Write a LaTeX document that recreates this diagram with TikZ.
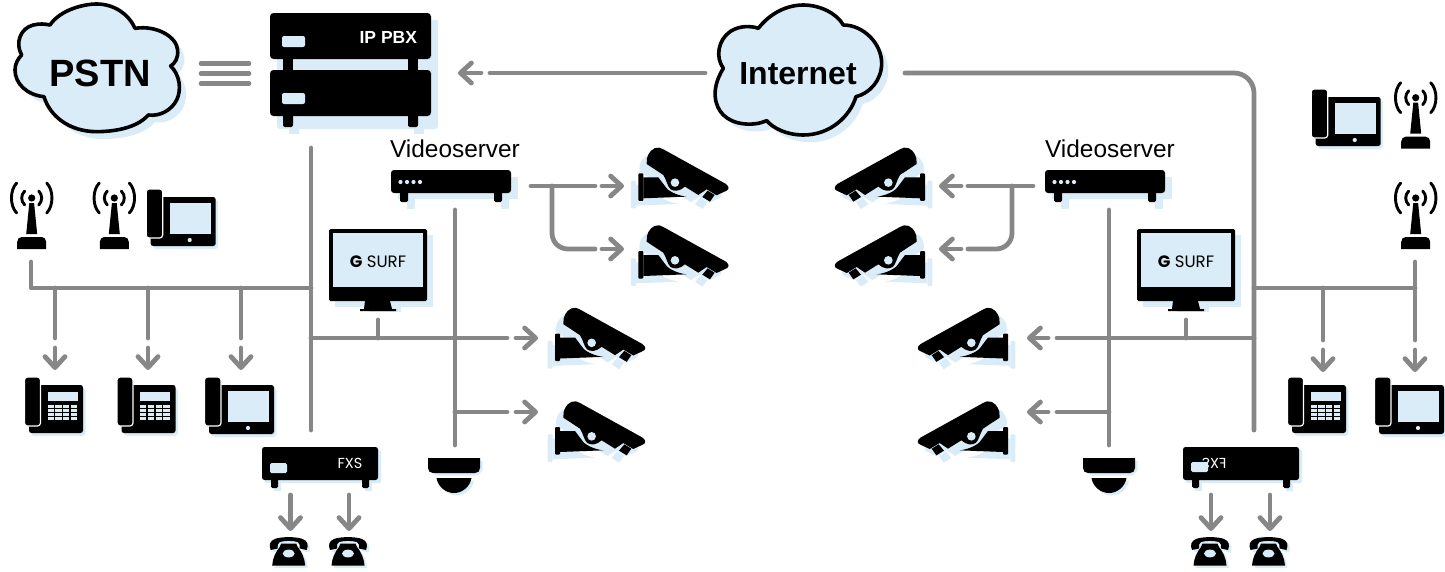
\documentclass[tikz,border=0pt]{standalone}
\usepackage{fontspec}
\setmainfont{Liberation Sans}
\newfontfamily\geo{Poppins}
\usetikzlibrary{arrows.meta,calc}
\definecolor{lb}{HTML}{D9ECF8}
\definecolor{lg}{HTML}{878787}
\newcommand\fpx[1]{\fontsize{#1}{#1}\selectfont}
% ---- shape helpers
\newcommand\cloudA{(150,75) .. controls (180,30) and (250,12) .. (290,12) .. controls (340,12) and (385,40) .. (405,85)
 .. controls (470,75) and (530,110) .. (533,150) .. controls (535,175) and (525,190) .. (512,198)
 .. controls (540,225) and (545,270) .. (530,300) .. controls (515,330) and (480,350) .. (445,345)
 .. controls (410,385) and (340,395) .. (290,395) .. controls (210,395) and (150,350) .. (132,290)
 .. controls (80,285) and (45,250) .. (45,210) .. controls (45,190) and (55,175) .. (65,165)
 .. controls (45,130) and (60,85) .. (100,75) .. controls (120,70) and (135,72) .. (150,75) -- cycle}
\newcommand\cloudB{(205,85) .. controls (240,40) and (290,15) .. (340,15) .. controls (390,15) and (440,40) .. (460,75)
 .. controls (520,75) and (575,130) .. (575,190) .. controls (575,240) and (540,280) .. (498,290)
 .. controls (480,350) and (420,405) .. (340,405) .. controls (290,405) and (250,385) .. (230,362)
 .. controls (190,380) and (130,375) .. (100,345) .. controls (75,320) and (60,270) .. (100,205)
 .. controls (75,170) and (85,120) .. (120,95) .. controls (150,75) and (185,78) .. (205,85) -- cycle}
\newcommand\camshape[1]{%
 \fill[#1,rounded corners=1pt] (355,130) rectangle (370,213);
 \fill[#1] (370,142) -- (415,142) -- (440,175) .. controls (452,188) and (480,198) .. (500,200) -- (370,205) -- cycle;
 \fill[#1] (380,102) -- (381,85) .. controls (384,70) and (398,50) .. (418,53) .. controls (422,54) and (426,56) .. (430,58) -- (618,162) .. controls (628,170) and (628,178) .. (620,182)
   -- (590,196) -- (560,178) -- (535,195) -- (495,170) .. controls (480,184) and (462,185) .. (452,178) .. controls (442,170) and (440,150) .. (430,135) -- cycle;
 \fill[#1] (563,182) -- (584,195) -- (570,215) -- (547,201) -- cycle;}
\newcommand\oldphone[1]{%
 \fill[#1] (-18,13) .. controls (-20,8) and (-19,4) .. (-14,2) .. controls (-8,-0.5) and (8,-0.5) .. (14,2) .. controls (19,4) and (20,8) .. (18,13)
   -- (11,11.5) .. controls (11,8) and (11,6) .. (9,5) .. controls (4,3.5) and (-4,3.5) .. (-9,5) .. controls (-11,6) and (-11,8) .. (-11,11.5) -- cycle;
 \fill[#1] (-7.5,6.5) -- (7.5,6.5) -- (9,10) .. controls (13,15) and (16,21) .. (16.5,28.5) -- (-16.5,28.5) .. controls (-16,21) and (-13,15) .. (-9,10) -- cycle;}
\tikzset{
 conn/.style={draw=lg,line width=4.8pt,line cap=round,line join=round},
 eqline/.style={draw=lg,line width=4.6pt,line cap=round},
 arr/.style={conn,-{Straight Barb[round,length=11pt,width=20pt]}},
 cloudpic/.pic={
  \begin{scope}[x=.3333pt,y=-.3333pt]
   \fill[lb,shift={(20,22)}] \cloudA;
   \draw[line width=3.6pt,fill=lb,line join=round] \cloudA;
  \end{scope}},
 cloudpicb/.pic={
  \begin{scope}[x=.3333pt,y=-.3333pt]
   \fill[lb,shift={(20,22)}] \cloudB;
   \draw[line width=3.6pt,fill=lb,line join=round] \cloudB;
  \end{scope}},
 pbxpic/.pic={
  \fill[lb] (7,7) rectangle (168,64);
  \fill[lb,rounded corners=3pt] (7,57) rectangle (168,116);
  \fill[lb] (19,110) rectangle (29,121);
  \fill[lb] (144,110) rectangle (154,121);
  \fill[black,rounded corners=3.5pt] (0,0) rectangle (161,46);
  \fill[black,rounded corners=3.5pt] (0,57) rectangle (161,103);
  \fill (13,46) rectangle (23,57);
  \fill (138,46) rectangle (148,57);
  \fill[rounded corners=2pt] (13,100) rectangle (23,114);
  \fill[rounded corners=2pt] (138,100) rectangle (148,114);
  \fill[lb,rounded corners=2pt] (12,23) rectangle (35,34);
  \fill[lb,rounded corners=2pt] (12,80) rectangle (35,91);},
 fxspic/.pic={
  \fill[lb,rounded corners=2pt] (3,3) rectangle (119,36);
  \fill[lb] (12,30) rectangle (19,44);
  \fill[lb] (103,30) rectangle (110,44);
  \fill[black,rounded corners=2.5pt] (0,0) rectangle (116,33);
  \fill[rounded corners=1.5pt] (9,30) rectangle (16,41);
  \fill[rounded corners=1.5pt] (100,30) rectangle (107,41);},
 fxsled/.pic={\fill[lb,rounded corners=1.5pt] (0,0) rectangle (17,10);},
 videopic/.pic={
  \fill[lb] (7,7) rectangle (127,29);
  \fill[lb] (16,25) rectangle (24,39);
  \fill[lb] (110,25) rectangle (118,39);
  \fill[black,rounded corners=3pt] (0,0) rectangle (120,23);
  \fill[rounded corners=1.5pt] (9,20) rectangle (17,32);
  \fill[rounded corners=1.5pt] (103,20) rectangle (111,32);
  \foreach \dx in {9.5,16,22.5,29} \fill[lb] (\dx,12) circle (2.1pt);},
 monitorpic/.pic={
  \fill[lb] (6,6) rectangle (104,78);
  \fill[lb] (40,72) rectangle (72,83);
  \fill[black,rounded corners=1.5pt] (0,0) rectangle (98,72);
  \fill (36,72) -- (61,72) -- (63,80) -- (67,80) -- (67,82) -- (31,82) -- (31,80) -- (35,80) -- cycle;
  \fill[lb] (4,4) rectangle (94,58);},
 phonebase/.pic={
  \fill[lb,rounded corners=3pt] (7,11) rectangle (72,60);
  \fill[black,rounded corners=2.5pt] (4.5,8) rectangle (69.5,57);
  \draw[white,line width=1.2pt,fill=black,rounded corners=3pt] (0,0) rectangle (16.5,49);},
 screenphone/.pic={
  \pic {phonebase};
  \fill[lb] (23.5,14) rectangle (64.5,45);
  \fill[lb] (43.5,51) circle (2.1pt);},
 keyphone/.pic={
  \fill[lb,rounded corners=3pt] (7,11) rectangle (61,59);
  \fill[black,rounded corners=2.5pt] (4.5,8) rectangle (58.5,56);
  \draw[white,line width=1.2pt,fill=black,rounded corners=3pt] (0,0) rectangle (16,49);
  \fill[lb] (23,15) rectangle (53,24);
  \foreach \cx in {0,1,2,3} \foreach \cy in {0,1,2,3}
   \fill[lb] ({23+\cx*7.75},{27.5+\cy*4.25}) rectangle ({29.25+\cx*7.75},{30.5+\cy*4.25});},
 antennapic/.pic={
  \draw[line width=2.9pt,line cap=round] (-15,-15) .. controls (-22,-8) and (-22,8) .. (-15,15);
  \draw[line width=2.9pt,line cap=round] (15,-15) .. controls (22,-8) and (22,8) .. (15,15);
  \draw[line width=2.9pt,line cap=round] (-7,-7) .. controls (-11,-3) and (-11,3) .. (-7,7);
  \draw[line width=2.9pt,line cap=round] (7,-7) .. controls (11,-3) and (11,3) .. (7,7);
  \fill (0,0) circle (3.6pt);
  \fill (-2.4,5) -- (2.4,5) -- (5.5,36) -- (-5.5,36) -- cycle;
  \fill (-14.5,51) -- (-14.5,44) .. controls (-14.5,41) and (-12.5,39) .. (-10,39) -- (10,39) .. controls (12.5,39) and (14.5,41) .. (14.5,44) -- (14.5,51) -- cycle;},
 camerapic/.pic={
  \begin{scope}[x=.3333pt,y=-.3333pt,shift={(-355,-52)}]
   \begin{scope}[shift={(-22,22)}]\camshape{lb}\end{scope}
   \camshape{black}
   \fill[lb] (465,158) circle (4.3pt);
  \end{scope}},
 domepic/.pic={
  \fill[lb] (-23.5,2.5) -- (28.5,2.5) -- (28.5,12.5) -- (23.5,17.5) -- (-18.5,17.5) -- cycle;
  \fill[lb] (-15,22.5) -- (20,22.5) .. controls (18.5,31.5) and (10.5,37.5) .. (2.5,37.5) .. controls (-5.5,37.5) and (-13.5,31.5) .. (-15,22.5) -- cycle;
  \fill (-26,0) -- (26,0) -- (26,10) .. controls (26,13) and (24,15) .. (21,15) -- (-21,15) .. controls (-24,15) and (-26,13) .. (-26,10) -- cycle;
  \fill (-17.5,20) -- (17.5,20) .. controls (16,29) and (8,35) .. (0,35) .. controls (-8,35) and (-16,29) .. (-17.5,20) -- cycle;},
 oldphonepic/.pic={
  \begin{scope}[shift={(2.5,2.5)}]\oldphone{lb}\end{scope}
  \oldphone{black}
  \fill[lb] (0,16.5) ellipse [x radius=6pt,y radius=3.9pt];},
 lbl/.style={inner sep=0pt,outer sep=0pt}
}
\begin{document}
\begin{tikzpicture}[x=1pt,y=-1pt]
\useasboundingbox (0,0) rectangle (1445,571);
% ---- devices and clouds
\pic (pstncloud) at (0,0) {cloudpic};
\pic (netcloud) at (690,0) {cloudpicb};
\pic (pbx) at (270,13) {pbxpic};
\pic (fxsl) at (262,447) {fxspic};
\pic (ledl) at (270,463) {fxsled};
\pic (fxsr) at (1183,447) {fxspic};
\pic (vsl) at (391,170) {videopic};
\pic (vsr) at (1045,170) {videopic};
\pic (moni) at (329,229) {monitorpic};
\pic (monr) at (1137,229) {monitorpic};
\pic (ant1) at (31.7,198) {antennapic};
\pic (ant2) at (114.3,198) {antennapic};
\pic (ant3) at (1415.7,97.7) {antennapic};
\pic (ant4) at (1415.7,198) {antennapic};
\pic (ph1) at (146.2,189) {screenphone};
\pic (ph2) at (204.5,377) {screenphone};
\pic (ph3) at (1311.2,89) {screenphone};
\pic (ph4) at (1374.5,377) {screenphone};
\pic (kp1) at (24.5,377) {keyphone};
\pic (kp2) at (117,377) {keyphone};
\pic (kp3) at (1287.5,377) {keyphone};
\pic (cam1) at (638.3,147.3) {camerapic};
\pic (cam2) at (638.3,225) {camerapic};
\pic (cam3) at (555,307.5) {camerapic};
\pic (cam4) at (555,401) {camerapic};
\pic[xscale=-1] (cam5) at (925,147.3) {camerapic};
\pic[xscale=-1] (cam6) at (925,225) {camerapic};
\pic[xscale=-1] (cam7) at (1008,307.5) {camerapic};
\pic[xscale=-1] (cam8) at (1008,401) {camerapic};
\pic (dome1) at (454,458) {domepic};
\pic (dome2) at (1109,458) {domepic};
\pic (tel1) at (288.7,537) {oldphonepic};
\pic (tel2) at (348,537) {oldphonepic};
\pic (tel3) at (1210,537) {oldphonepic};
\pic (tel4) at (1268.5,537) {oldphonepic};
% ---- labels
\node[lbl,anchor=base] (pstn) at (100,86) {\fpx{38}\bfseries PSTN};
\node[lbl,anchor=base] (internet) at (798,84) {\fpx{32}\bfseries Internet};
\node[lbl,anchor=base east,text=white] (ippbx) at (417,43) {\fpx{17.5}\bfseries IP PBX};
\node[lbl,anchor=base] (vl) at (455,157.5) {\fpx{24.4}Videoserver};
\node[lbl,anchor=base] (vr) at (1110,157.5) {\fpx{24.4}Videoserver};
\node[lbl,anchor=base] (gl) at (378,267) {\fpx{16.5}\geo\textbf{G} SURF};
\node[lbl,anchor=base] (gr) at (1186,267) {\fpx{16.5}\geo\textbf{G} SURF};
\node[lbl,anchor=base,text=white] (fx1) at (350,468) {\fpx{14.5}\geo FXS};
\node[lbl,anchor=base,text=white,xscale=-1] (fx2) at (1214,468) {\fpx{14.5}\geo FXS};
\pic (ledr) at (1191,462) {fxsled};
% ---- named connector points
\coordinate (eqa) at (201,63.5); \coordinate (eqb) at (249,63.5);
\coordinate (eqc) at (201,73.5); \coordinate (eqd) at (249,73.5);
\coordinate (eqe) at (201,83.5); \coordinate (eqf) at (249,83.5);
\coordinate (n1) at (705,73); \coordinate (n2) at (490,73); \coordinate (n3) at (481,73); \coordinate (n4) at (458,73);
% left trunk
\coordinate (lt) at (311,148); \coordinate (lb1) at (311,430);
\coordinate (lj) at (311,288); \coordinate (lj2) at (311,338);
\coordinate (la) at (31,262); \coordinate (lc) at (31,288);
\foreach \nm/\xx in {bra/55,brb/148,brc/241}{
 \coordinate (\nm a) at (\xx,288); \coordinate (\nm b) at (\xx,338);
 \coordinate (\nm c) at (\xx,348); \coordinate (\nm d) at (\xx,370);}
\coordinate (m1) at (507,338); \coordinate (m2) at (516,338); \coordinate (m3) at (538,338);
\coordinate (st1) at (378,320); \coordinate (st2) at (378,338);
\coordinate (vl1) at (455,210); \coordinate (vl2) at (455,445);
\coordinate (vj) at (455,412); \coordinate (m4) at (507,412); \coordinate (m5) at (516,412); \coordinate (m6) at (538,412);
\coordinate (s0) at (531,186); \coordinate (s1) at (595,186); \coordinate (s2) at (602,186); \coordinate (s3) at (624,186);
\coordinate (s4) at (552,186); \coordinate (s5) at (552,233); \coordinate (s6) at (568,249); \coordinate (s7) at (595,249); \coordinate (s8) at (602,249); \coordinate (s9) at (624,249);
\coordinate (f1a) at (290.5,495); \coordinate (f1b) at (290.5,531);
\coordinate (f2a) at (349,495); \coordinate (f2b) at (349,531);
% right
\coordinate (ra) at (905,73); \coordinate (rb) at (1234,73); \coordinate (rc) at (1254,93); \coordinate (rd) at (1254,430);
\coordinate (rj) at (1254,288); \coordinate (rj2) at (1254,338);
\coordinate (re) at (1415,288); \coordinate (rf) at (1415,262); \coordinate (rg) at (1415,340); \coordinate (rh) at (1415,350); \coordinate (ri) at (1415,372);
\coordinate (rk) at (1323,288); \coordinate (rl) at (1323,340); \coordinate (rm) at (1323,350); \coordinate (rn) at (1323,372);
\coordinate (w1) at (1057,338); \coordinate (w2) at (1048,338); \coordinate (w3) at (1027,338);
\coordinate (st3) at (1186,320); \coordinate (st4) at (1186,338);
\coordinate (vr1) at (1109,210); \coordinate (vr2) at (1109,445);
\coordinate (vk) at (1109,412); \coordinate (w4) at (1057,412); \coordinate (w5) at (1048,412); \coordinate (w6) at (1027,412);
\coordinate (t0) at (1033,186); \coordinate (t1) at (968,186); \coordinate (t2) at (961,186); \coordinate (t3) at (939,186);
\coordinate (t4) at (1012,186); \coordinate (t5) at (1012,233); \coordinate (t6) at (996,249); \coordinate (t7) at (968,249); \coordinate (t8) at (961,249); \coordinate (t9) at (939,249);
\coordinate (f3a) at (1211,495); \coordinate (f3b) at (1211,531);
\coordinate (f4a) at (1270,495); \coordinate (f4b) at (1270,531);
% ---- connectors
\draw[eqline] (eqa) -- (eqb);
\draw[eqline] (eqc) -- (eqd);
\draw[eqline] (eqe) -- (eqf);
\draw[conn] (n1) -- (n2);
\draw[arr] (n3) -- (n4);
\draw[conn] (lt) -- (lb1);
\draw[conn] (la) -- (lc) -- (lj);
\foreach \nm in {bra,brb,brc}{
 \draw[conn] (\nm a) -- (\nm b);
 \draw[arr] (\nm c) -- (\nm d);}
\draw[conn] (lj2) -- (m1);
\draw[arr] (m2) -- (m3);
\draw[conn] (st1) -- (st2);
\draw[conn] (vl1) -- (vl2);
\draw[conn] (vj) -- (m4);
\draw[arr] (m5) -- (m6);
\draw[conn] (s0) -- (s1);
\draw[arr] (s2) -- (s3);
\draw[conn] (s4) -- (s5) .. controls ($(s5)+(0,9)$) and ($(s6)+(-9,0)$) .. (s6) -- (s7);
\draw[arr] (s8) -- (s9);
\draw[arr] (f1a) -- (f1b);
\draw[arr] (f2a) -- (f2b);
\draw[conn] (ra) -- (rb) .. controls ($(rb)+(11,0)$) and ($(rc)+(0,-11)$) .. (rc) -- (rd);
\draw[conn] (rj) -- (re);
\draw[conn] (rf) -- (rg);
\draw[arr] (rh) -- (ri);
\draw[conn] (rk) -- (rl);
\draw[arr] (rm) -- (rn);
\draw[conn] (rj2) -- (w1);
\draw[arr] (w2) -- (w3);
\draw[conn] (st3) -- (st4);
\draw[conn] (vr1) -- (vr2);
\draw[conn] (vk) -- (w4);
\draw[arr] (w5) -- (w6);
\draw[conn] (t0) -- (t1);
\draw[arr] (t2) -- (t3);
\draw[conn] (t4) -- (t5) .. controls ($(t5)+(0,9)$) and ($(t6)+(9,0)$) .. (t6) -- (t7);
\draw[arr] (t8) -- (t9);
\draw[arr] (f3a) -- (f3b);
\draw[arr] (f4a) -- (f4b);
\end{tikzpicture}
\end{document}
